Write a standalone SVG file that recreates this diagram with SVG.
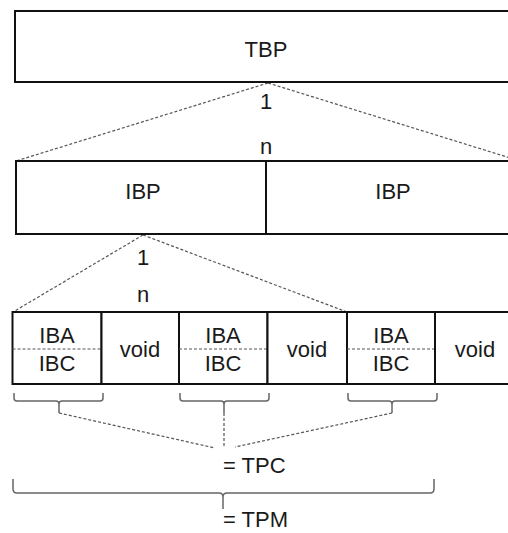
<svg xmlns="http://www.w3.org/2000/svg" width="508" height="533" viewBox="0 0 508 533">
<style>
.box{fill:#fff;stroke:#111;stroke-width:2}
.t{font-family:"Liberation Sans",Arial,sans-serif;font-size:22px;fill:#1a1a1a;text-anchor:middle}
.d{fill:none;stroke:#555;stroke-width:1.2;stroke-dasharray:3 2}
.br{fill:none;stroke:#666;stroke-width:1.5}
</style>
<rect width="508" height="533" fill="#fff"/>
<g id="connectors">
<path class="d" d="M268,83 L16,161 M268,83 L520,161"/>
<path class="d" d="M143,235 L13,312 M143,235 L347,312"/>
<path class="d" d="M59,413 L215,448 M224,413 L224,447 M392,413 L235,447"/>
</g>
<g id="tbp">
<rect class="box" x="15" y="11" width="510" height="71"/>
<text class="t" x="266" y="57">TBP</text>
</g>
<text class="t" x="266" y="109">1</text>
<text class="t" x="266" y="154">n</text>
<g id="ibp1">
<rect class="box" x="16" y="161" width="250" height="73"/>
<text class="t" x="143" y="199">IBP</text>
</g>
<g id="ibp2">
<rect class="box" x="266" y="161" width="260" height="73"/>
<text class="t" x="393" y="199">IBP</text>
</g>
<text class="t" x="143" y="265">1</text>
<text class="t" x="143" y="302">n</text>
<g id="iba1">
<rect class="box" x="12.5" y="312" width="89" height="72"/>
<line class="d" x1="12.5" y1="349" x2="101.5" y2="349"/>
<text class="t" x="57" y="343">IBA</text>
<text class="t" x="57" y="371">IBC</text>
</g>
<g id="void1">
<rect class="box" x="101.5" y="312" width="77.5" height="72"/>
<text class="t" x="140" y="357">void</text>
</g>
<g id="iba2">
<rect class="box" x="179" y="312" width="88.5" height="72"/>
<line class="d" x1="179" y1="349" x2="267.5" y2="349"/>
<text class="t" x="223" y="343">IBA</text>
<text class="t" x="223" y="371">IBC</text>
</g>
<g id="void2">
<rect class="box" x="267.5" y="312" width="79.5" height="72"/>
<text class="t" x="307" y="357">void</text>
</g>
<g id="iba3">
<rect class="box" x="347" y="312" width="88" height="72"/>
<line class="d" x1="347" y1="349" x2="435" y2="349"/>
<text class="t" x="391" y="343">IBA</text>
<text class="t" x="391" y="371">IBC</text>
</g>
<g id="void3">
<rect class="box" x="435" y="312" width="90" height="72"/>
<text class="t" x="475" y="357">void</text>
</g>
<g id="braces">
<path class="br" d="M14,393 L14,398 Q14,401 17,401 L56,401 Q59,401 59,404 L59,413 M59,404 Q59,401 62,401 L100,401 Q103,401 103,398 L103,393"/>
<path class="br" d="M180,393 L180,398 Q180,401 183,401 L221,401 Q224,401 224,404 L224,413 M224,404 Q224,401 227,401 L266,401 Q269,401 269,398 L269,393"/>
<path class="br" d="M348,393 L348,398 Q348,401 351,401 L389,401 Q392,401 392,404 L392,413 M392,404 Q392,401 395,401 L434,401 Q437,401 437,398 L437,393"/>
<path class="br" d="M13,479 L13,489 Q13,493 17,493 L219,493 Q223,493 223,497 L223,509 M223,497 Q223,493 227,493 L430,493 Q434,493 434,489 L434,479"/>
</g>
<text class="t" x="223" y="473" style="text-anchor:start">= TPC</text>
<text class="t" x="223" y="527" style="text-anchor:start">= TPM</text>
</svg>
